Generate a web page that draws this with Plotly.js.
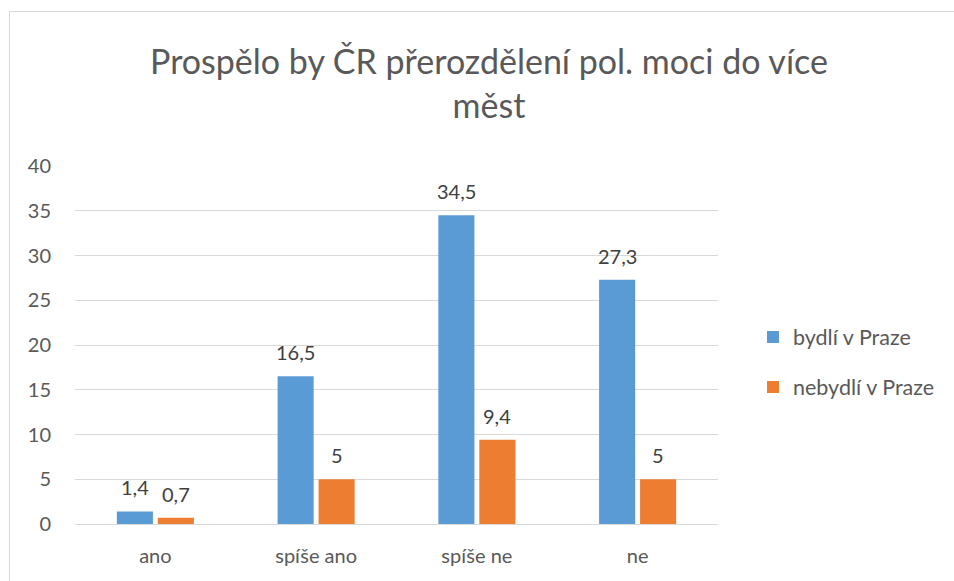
<!DOCTYPE html>
<html>
<head>
<meta charset="utf-8">
<script src="https://cdn.plot.ly/plotly-3.0.1.min.js"></script>
<style>
html,body{margin:0;padding:0;background:#fff;}
#chart{width:954px;height:581px;}
</style>
</head>
<body>
<div id="chart"></div>
<script>
const categories = ["ano", "spíše ano", "spíše ne", "ne"];
const seriesNames = ["bydlí v Praze", "nebydlí v Praze"];
const bydliVPraze = [1.4, 16.5, 34.5, 27.3];
const nebydliVPraze = [0.7, 5, 9.4, 5];
const yTicks = [0, 5, 10, 15, 20, 25, 30, 35, 40];
const titleText = "Prospělo by ČR přerozdělení pol. moci do více<br>měst";

const colors = ["#5B9BD5", "#ED7D31"];
const FONT = "Lato, 'Open Sans', sans-serif";
const W = 954, H = 581;
const M = {l: 75, r: 236, t: 166, b: 57};
const plotW = W - M.l - M.r, plotH = H - M.t - M.b;
const px2x = p => (p - M.l) / plotW;
const py2y = p => (H - M.b - p) / plotH;

const allSeries = [bydliVPraze, nebydliVPraze];
const traces = allSeries.map((vals, i) => ({
  type: "bar",
  name: seriesNames[i],
  x: categories,
  y: vals,
  legendgroup: "g" + i,
  marker: {color: colors[i]},
  hoverinfo: "skip"
}));

const fmt = v => String(v).replace(".", ",");
const slotPx = plotW / categories.length;
const groupPx = slotPx * (1 - 0.49);
const annotations = [];
allSeries.forEach((vals, i) => {
  vals.forEach((v, j) => {
    annotations.push({
      x: categories[j], y: v, xref: "x", yref: "y",
      text: fmt(v), showarrow: false,
      xanchor: "center", yanchor: "bottom",
      xshift: (i === 0 ? -1 : 1) * groupPx / 4,
      yshift: 10,
      font: {family: FONT, size: 20, color: "#404040"}
    });
  });
});

const layout = {
  width: W, height: H,
  margin: M,
  paper_bgcolor: "#fff", plot_bgcolor: "#fff",
  separators: ", ",
  font: {family: FONT, color: "#595959"},
  title: {
    text: titleText,
    font: {family: FONT, size: 34, color: "#595959"},
    xref: "container", x: 489 / W, xanchor: "center",
    yref: "container", y: 1 - 74 / H, yanchor: "top"
  },
  bargap: 0.49, bargroupgap: 0.12,
  barmode: "group",
  xaxis: {
    type: "category", automargin: false,
    showgrid: false, zeroline: false, showline: false,
    ticks: "", tickfont: {family: FONT, size: 20, color: "#595959"},
    ticklabelstandoff: 18
  },
  yaxis: {
    range: [0, 40], tickvals: yTicks, ticktext: yTicks.map(String),
    automargin: false,
    showgrid: true, gridcolor: "#d9d9d9", gridwidth: 1,
    zeroline: true, zerolinecolor: "#d9d9d9", zerolinewidth: 1,
    showline: false, ticks: "",
    tickfont: {family: FONT, size: 20, color: "#595959"},
    ticklabelstandoff: 23
  },
  legend: {
    x: px2x(753), xanchor: "left", y: py2y(362), yanchor: "middle",
    xref: "paper", yref: "paper",
    traceorder: "grouped", tracegroupgap: 19,
    font: {family: FONT, size: 21.5, color: "#595959"},
    bgcolor: "rgba(0,0,0,0)"
  },
  annotations: annotations,
  shapes: [
    {type: "line", xref: "paper", yref: "paper", x0: px2x(9.5), x1: px2x(960), y0: py2y(11.5), y1: py2y(11.5), line: {color: "#d9d9d9", width: 1}},
    {type: "line", xref: "paper", yref: "paper", x0: px2x(9.5), x1: px2x(9.5), y0: py2y(11.5), y1: py2y(590), line: {color: "#d9d9d9", width: 1}}
  ],
  showlegend: true
};

Plotly.newPlot("chart", traces, layout, {staticPlot: true, displayModeBar: false});
</script>
</body>
</html>
